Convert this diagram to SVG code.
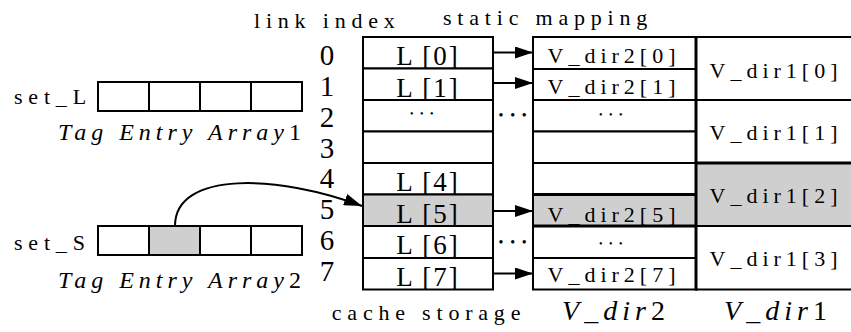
<svg xmlns="http://www.w3.org/2000/svg" width="851" height="332" viewBox="0 0 851 332" font-family="Liberation Serif, serif">
<style>
text{font-family:'Liberation Serif',serif;fill:#000}
.lbl{font-size:22px;letter-spacing:5.8px}
.it{font-size:24px;letter-spacing:5px;font-style:italic}
.up{font-style:normal}
.idx{font-size:29px;text-anchor:middle}
.cL{font-size:27px;letter-spacing:2px;text-anchor:middle}
.cV{font-size:22px;letter-spacing:5px;text-anchor:middle}
.big{font-size:28px;letter-spacing:5px;font-style:italic;text-anchor:middle}
.dots{font-size:10px;letter-spacing:6.5px;text-anchor:middle}
.bdots{font-size:14px;letter-spacing:6.8px;text-anchor:middle}
.ln{stroke:#000;stroke-width:2;fill:none}
.thk{stroke:#000;stroke-width:3;fill:none}
.cell{fill:#fff;stroke:#000;stroke-width:2}
.gray{fill:#cfcfcf;stroke:#000;stroke-width:2}
.gfill{fill:#cfcfcf;stroke:none}
</style>
<defs>
<marker id="ah" markerUnits="userSpaceOnUse" markerWidth="18" markerHeight="12" refX="18" refY="6" orient="auto">
<path d="M0,0 L18,6 L0,12 z" fill="#000"/>
</marker>
</defs>

<g id="headers">
<text class="lbl" x="254" y="28">link index</text>
<text class="lbl" x="443" y="25">static mapping</text>
</g>

<g id="tag-array-1">
<text class="lbl" x="14" y="104">set_L</text>
<rect class="cell" x="98" y="82" width="51" height="29"/>
<rect class="cell" x="149" y="82" width="51" height="29"/>
<rect class="cell" x="200" y="82" width="51" height="29"/>
<rect class="cell" x="251" y="82" width="51" height="29"/>
<text class="it" x="58" y="140">Tag Entry Array<tspan class="up">1</tspan></text>
</g>

<g id="tag-array-2">
<text class="lbl" x="14" y="250">set_S</text>
<rect class="cell" x="98" y="226" width="51" height="29"/>
<rect class="gray" x="149" y="226" width="51" height="29"/>
<rect class="cell" x="200" y="226" width="51" height="29"/>
<rect class="cell" x="251" y="226" width="51" height="29"/>
<text class="it" x="58" y="288">Tag Entry Array<tspan class="up">2</tspan></text>
</g>

<g id="link-index">
<text class="idx" x="327" y="65">0</text>
<text class="idx" x="327" y="95.5">1</text>
<text class="idx" x="327" y="127">2</text>
<text class="idx" x="327" y="157.5">3</text>
<text class="idx" x="327" y="188">4</text>
<text class="idx" x="327" y="218.5">5</text>
<text class="idx" x="327" y="249.5">6</text>
<text class="idx" x="327" y="281">7</text>
</g>

<g id="cache-storage">
<rect class="cell" x="363" y="37" width="130" height="31.5"/>
<rect class="cell" x="363" y="68.5" width="130" height="31.5"/>
<rect class="cell" x="363" y="100" width="130" height="31.5"/>
<rect class="cell" x="363" y="131.5" width="130" height="31.5"/>
<rect class="cell" x="363" y="163" width="130" height="31.5"/>
<rect class="gray" x="363" y="194.5" width="130" height="31.5"/>
<rect class="cell" x="363" y="226" width="130" height="32"/>
<rect class="cell" x="363" y="258" width="130" height="31.5"/>
<text class="cL" x="428" y="65">L [0]</text>
<text class="cL" x="428" y="96.5">L [1]</text>
<text class="dots" x="425" y="117">•••</text>
<text class="cL" x="428" y="191">L [4]</text>
<text class="cL" x="428" y="222.5">L [5]</text>
<text class="cL" x="428" y="254">L [6]</text>
<text class="cL" x="428" y="285.5">L [7]</text>
<text class="lbl" x="429" y="320" text-anchor="middle">cache storage</text>
</g>

<g id="v-dir2">
<rect class="cell" x="533" y="37" width="163" height="32"/>
<rect class="cell" x="533" y="69" width="163" height="31"/>
<rect class="cell" x="533" y="100" width="163" height="31.5"/>
<rect class="cell" x="533" y="131.5" width="163" height="31.5"/>
<rect class="cell" x="533" y="163" width="163" height="31.5"/>
<rect class="gray" x="533" y="194.5" width="163" height="31.5"/>
<rect class="cell" x="533" y="226" width="163" height="32"/>
<rect class="cell" x="533" y="258" width="163" height="31.5"/>
<line class="thk" x1="533" y1="194.5" x2="696" y2="194.5"/>
<line class="thk" x1="533" y1="226" x2="696" y2="226"/>
<text class="cV" x="614" y="63">V_dir2[0]</text>
<text class="cV" x="614" y="94">V_dir2[1]</text>
<text class="dots" x="614" y="118">•••</text>
<text class="cV" x="614" y="221.5">V_dir2[5]</text>
<text class="dots" x="614" y="246.5">•••</text>
<text class="cV" x="614" y="282">V_dir2[7]</text>
<text class="big" x="616" y="320">V_dir<tspan class="up">2</tspan></text>
</g>

<g id="v-dir1">
<rect class="gfill" x="697" y="163" width="154" height="63"/>
<line class="ln" x1="696" y1="37" x2="851" y2="37"/>
<line class="ln" x1="696" y1="100" x2="851" y2="100"/>
<line class="thk" x1="696" y1="163" x2="851" y2="163"/>
<line class="ln" x1="696" y1="226" x2="851" y2="226"/>
<line class="ln" x1="696" y1="289.5" x2="851" y2="289.5"/>
<line class="thk" x1="696" y1="36" x2="696" y2="290.5"/>
<text class="cV" x="776" y="78">V_dir1[0]</text>
<text class="cV" x="776" y="140">V_dir1[1]</text>
<text class="cV" x="776" y="203">V_dir1[2]</text>
<text class="cV" x="776" y="266">V_dir1[3]</text>
<text class="big" x="778" y="320">V_dir<tspan class="up">1</tspan></text>
</g>

<g id="connectors">
<path class="ln" d="M175,226 C175,170 280,175 362,206" marker-end="url(#ah)"/>
<line class="ln" x1="493" y1="52.5" x2="533" y2="52.5" marker-end="url(#ah)"/>
<line class="ln" x1="493" y1="83" x2="533" y2="83" marker-end="url(#ah)"/>
<line class="ln" x1="493" y1="211" x2="533" y2="211" marker-end="url(#ah)"/>
<line class="ln" x1="493" y1="273.5" x2="533" y2="273.5" marker-end="url(#ah)"/>
<text class="bdots" x="516" y="120">•••</text>
<text class="bdots" x="516" y="247">•••</text>
</g>
</svg>
